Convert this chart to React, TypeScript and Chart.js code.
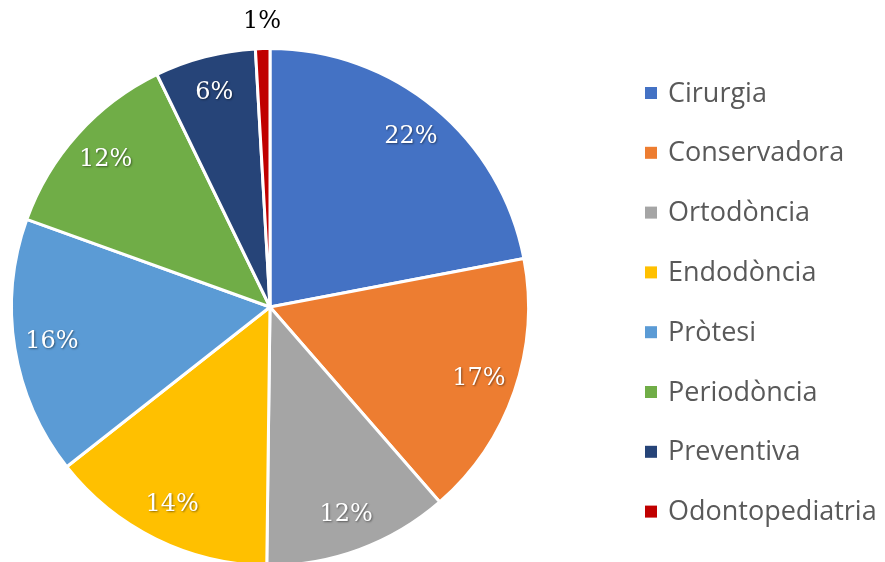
import React, { useEffect, useRef } from "react";
import { Chart, registerables } from "chart.js";

Chart.register(...registerables);

const categories = ["Cirurgia", "Conservadora", "Ortodòncia", "Endodòncia", "Pròtesi", "Periodòncia", "Preventiva", "Odontopediatria"];
const values = [22.0, 16.6, 11.6, 14.2, 16.1, 12.3, 6.3, 0.9];
const colors = ["#4472C4", "#ED7D31", "#A5A5A5", "#FFC000", "#5B9BD5", "#70AD47", "#264478", "#C00000"];

const W = 885;
const H = 614;

const labelPlugin = {
  id: "pctLabels",
  afterDatasetsDraw(chart: any) {
    const ctx = chart.ctx;
    const meta = chart.getDatasetMeta(0);
    const data = chart.data.datasets[0].data as number[];
    const total = data.reduce((a, b) => a + b, 0);
    ctx.save();
    ctx.textAlign = "center";
    ctx.textBaseline = "middle";
    ctx.font = "24px 'DejaVu Serif'";
    meta.data.forEach((arc: any, i: number) => {
      const p = arc.getProps(["x", "y", "startAngle", "endAngle", "outerRadius"], true);
      const mid = (p.startAngle + p.endAngle) / 2;
      const pct = Math.round((data[i] / total) * 100);
      const small = data[i] / total < 0.03;
      const r = small ? p.outerRadius + 27 : p.outerRadius * 0.855;
      const x = p.x + Math.cos(mid) * r;
      const y = p.y + Math.sin(mid) * r;
      if (small) {
        ctx.shadowColor = "transparent";
        ctx.fillStyle = "#000000";
      } else {
        ctx.shadowColor = "rgba(0,0,0,0.45)";
        ctx.shadowOffsetX = 1;
        ctx.shadowOffsetY = 1;
        ctx.shadowBlur = 2;
        ctx.fillStyle = "#FFFFFF";
      }
      ctx.fillText(pct + "%", x, y);
    });
    ctx.restore();
  },
};

const legendPlugin = {
  id: "sideLegend",
  afterDraw(chart: any) {
    const ctx = chart.ctx;
    const labels = chart.data.labels as string[];
    const bg = chart.data.datasets[0].backgroundColor as string[];
    ctx.save();
    ctx.textBaseline = "middle";
    ctx.textAlign = "left";
    ctx.font = "27px 'Open Sans'";
    const startY = 93;
    const step = 59.8;
    labels.forEach((lab, i) => {
      const y = startY + i * step;
      ctx.fillStyle = bg[i];
      ctx.fillRect(645, y - 6, 12, 12);
      ctx.fillStyle = "#595959";
      ctx.fillText(lab, 668, y + 1);
    });
    ctx.restore();
  },
};

export default function App() {
  const ref = useRef<HTMLCanvasElement>(null);
  useEffect(() => {
    if (!ref.current) return;
    const chart = new Chart(ref.current, {
      type: "pie",
      data: {
        labels: categories,
        datasets: [
          {
            data: values,
            backgroundColor: colors,
            borderColor: "#FFFFFF",
            borderWidth: 3,
          },
        ],
      },
      options: {
        responsive: false,
        animation: false,
        layout: { padding: { left: 10, right: W - 530, top: 47, bottom: H - 567 } },
        plugins: {
          legend: { display: false },
          tooltip: { enabled: false },
        },
      },
      plugins: [labelPlugin, legendPlugin],
    });
    return () => chart.destroy();
  }, []);
  return (
    <div style={{ position: "fixed", left: 0, top: 0, width: W, height: 562, overflow: "hidden", background: "#fff" }}>
      <canvas ref={ref} width={W} height={H} style={{ width: W, height: H, display: "block" }} />
    </div>
  );
}
